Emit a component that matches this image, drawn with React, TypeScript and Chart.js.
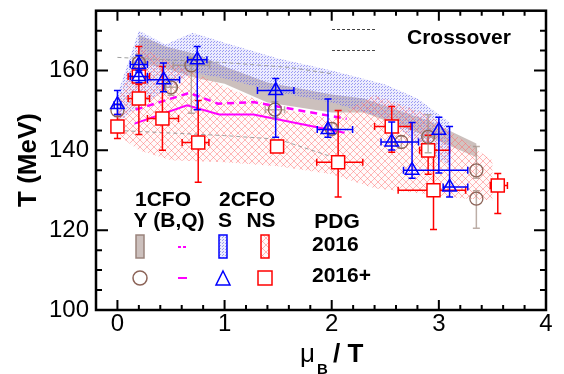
import React, { useEffect, useRef } from "react";
import { Chart, registerables } from "chart.js";
Chart.register(...registerables);

const FONT = "'Liberation Sans', Arial, Helvetica, sans-serif";

// ---- axes ----
const xTicks = [0, 1, 2, 3, 4];
const yTicks = [100, 120, 140, 160];

// ---- 1CFO Y (B,Q), PDG2016+ : circles ----
const yMu = [0, 0.2, 0.5, 0.69, 1.47, 2.0, 2.65, 2.9, 3.35, 3.35];
const yT = [150, 162, 155.8, 161.3, 150.2, 145.4, 142.1, 143.4, 135, 127.9];
const yTUp = [1.5, 2, 2, 2, 2, 1.5, 1.5, 5.5, 6, 2];
const yTDn = [1.5, 2, 2, 12, 2, 1.5, 1.5, 4, 2, 7.4];
const yMuErr = [0, 0.05, 0.05, 0.17, 0.09, 0.05, 0.1, 0.05, 0, 0];

// ---- 2CFO S, PDG2016+ : triangles ----
const sMu = [0, 0.2, 0.2, 0.43, 0.745, 1.477, 1.965, 2.56, 2.75, 3.0, 3.1];
const sT = [151.5, 161.5, 158.5, 157.7, 162.7, 155, 145.2, 142.1, 135, 145, 130.8];
const sTUp = [3.5, 2.3, 1.5, 4.2, 3.3, 3, 7.7, 5, 12, 3.3, 15.2];
const sTDn = [2.5, 2, 1.5, 3, 12.5, 11.7, 1.9, 2, 2, 10.7, 2.5];
const sMuLo = [0.03, 0.08, 0.08, 0.15, 0.09, 0.17, 0.1, 0.1, 0.08, 0, 0.06];
const sMuHi = [0.03, 0.08, 0.08, 0.15, 0.09, 0.17, 0.23, 0.25, 0.52, 0, 0.17];

// ---- 2CFO NS, PDG2016+ : squares ----
const nsMu = [0, 0.2, 0.2, 0.42, 0.754, 1.49, 2.06, 2.56, 2.9, 2.95, 3.55];
const nsT = [146, 158.5, 153, 148, 142, 141, 137, 146, 140, 130, 131.2];
const nsTUp = [3, 2, 13, 13, 10.5, 1.5, 13, 5, 3.8, 10, 3];
const nsTDn = [3, 2, 9, 8, 10, 1.5, 8.7, 6.5, 6, 9.8, 7];
const nsMuLo = [0, 0.1, 0.1, 0.14, 0.15, 0.05, 0.2, 0.16, 0.08, 0.33, 0.07];
const nsMuHi = [0, 0.1, 0.1, 0.15, 0.1, 0.05, 0.23, 0.18, 0.2, 0.3, 0.09];

// ---- 1CFO B,Q lines (magenta) ----
const bqMu2016p = [0.16, 0.65, 0.95, 1.27, 2.12];
const bqT2016p = [146.7, 151.3, 149, 149, 144.4];
const bqMu2016 = [0.17, 0.67, 0.94, 1.27, 2.14];
const bqT2016 = [150.2, 154.4, 151.7, 152.1, 147.9];

// ---- bands (PDG2016) ----
const yBandMu = [0.2, 0.45, 0.75, 1.0, 1.4, 2.0, 2.3, 2.9, 3.35];
const yBandUp = [169, 166, 164, 161, 157, 154, 153, 147.5, 141.7];
const yBandLo = [162, 160.5, 158, 156.7, 152, 149.5, 149.5, 143.5, 138.3];

const sBandMu = [0, 0.2, 0.45, 0.7, 1.0, 1.5, 2.0, 2.5, 2.8, 3.1];
const sBandUp = [154, 170, 166.5, 169.5, 167, 163, 160, 156.5, 153, 147];
const sBandLo = [147, 151, 155, 159.5, 158, 154.5, 152, 148, 142, 136];

const nsBandMu = [0.0, 0.2, 0.5, 1.0, 1.5, 2.0, 2.4, 2.9, 3.2, 3.5];
const nsBandUp = [152, 166, 162, 156, 150.5, 148, 153.8, 149, 143, 137.5];
const nsBandLo = [144, 140, 137.5, 137, 136, 134, 130.5, 129, 128, 127.5];

// ---- crossover lines ----
const coMuUp = [0, 0.3, 1.0, 1.6, 2.0];
const coTUp = [163.3, 162.9, 162, 160.8, 159.2];
const coMuLo = [0, 1.0, 1.5, 2.0];
const coTLo = [145, 143.7, 142.8, 138.4];

const pts = (xs: number[], ys: number[]) => xs.map((x, i) => ({ x, y: ys[i] }));
const poly = (xs: number[], up: number[], lo: number[]) => [
  ...pts(xs, up),
  ...pts(xs, lo).reverse(),
];

function makeDots(ctx: CanvasRenderingContext2D) {
  const c = document.createElement("canvas");
  c.width = 3;
  c.height = 3;
  const g = c.getContext("2d")!;
  g.fillStyle = "rgba(170,170,245,0.22)";
  g.fillRect(0, 0, 3, 3);
  g.fillStyle = "rgba(90,90,235,0.55)";
  g.fillRect(0, 0, 1, 1);
  g.fillRect(1, 2, 1, 1);
  return ctx.createPattern(c, "repeat")!;
}

function makeHatch(ctx: CanvasRenderingContext2D) {
  const c = document.createElement("canvas");
  c.width = 7;
  c.height = 7;
  const g = c.getContext("2d")!;
  g.fillStyle = "rgba(255,210,210,0.12)";
  g.fillRect(0, 0, 7, 7);
  g.strokeStyle = "rgba(255,100,100,0.45)";
  g.lineWidth = 1;
  g.beginPath();
  g.moveTo(0, 0);
  g.lineTo(7, 7);
  g.moveTo(7, 0);
  g.lineTo(0, 7);
  g.stroke();
  return ctx.createPattern(c, "repeat")!;
}

const errPlugin = {
  id: "errbars",
  beforeDatasetDraw(chart: any, args: any) {
    const ds = chart.data.datasets[args.index];
    const eb = ds.errorBars;
    if (!eb) return;
    const { ctx, chartArea: a } = chart;
    const x = chart.scales.x;
    const y = chart.scales.y;
    ctx.save();
    ctx.beginPath();
    ctx.rect(a.left, a.top, a.right - a.left, a.bottom - a.top);
    ctx.clip();
    ctx.strokeStyle = eb.color;
    ctx.lineWidth = 1.5;
    const cap = 3.5;
    ds.data.forEach((p: any, i: number) => {
      const px = x.getPixelForValue(p.x);
      const py = y.getPixelForValue(p.y);
      const up = eb.yPlus[i] || 0;
      const dn = eb.yMinus[i] || 0;
      const xl = eb.xMinus[i] || 0;
      const xr = eb.xPlus[i] || 0;
      ctx.beginPath();
      if (up || dn) {
        const y1 = y.getPixelForValue(p.y + up);
        const y2 = y.getPixelForValue(p.y - dn);
        ctx.moveTo(px, y1);
        ctx.lineTo(px, y2);
        if (up) {
          ctx.moveTo(px - cap, y1);
          ctx.lineTo(px + cap, y1);
        }
        if (dn) {
          ctx.moveTo(px - cap, y2);
          ctx.lineTo(px + cap, y2);
        }
      }
      if (xl || xr) {
        const x1 = x.getPixelForValue(p.x - xl);
        const x2 = x.getPixelForValue(p.x + xr);
        ctx.moveTo(x1, py);
        ctx.lineTo(x2, py);
        if (xl) {
          ctx.moveTo(x1, py - cap);
          ctx.lineTo(x1, py + cap);
        }
        if (xr) {
          ctx.moveTo(x2, py - cap);
          ctx.lineTo(x2, py + cap);
        }
      }
      ctx.stroke();
    });
    ctx.restore();
  },
};

function makeDecor(dotPat: CanvasPattern, hatchPat: CanvasPattern) {
  return {
    id: "decor",
    afterDatasetsDraw(chart: any) {
      const { ctx, chartArea: a } = chart;
      const x = chart.scales.x;
      const y = chart.scales.y;
      ctx.save();
      // ticks (inward, on all four sides)
      ctx.strokeStyle = "#000";
      ctx.lineWidth = 2;
      ctx.beginPath();
      for (let k = 0; k < 20; k++) {
        const px = x.getPixelForValue(k / 5);
        const len = k % 5 === 0 ? 10 : 5;
        ctx.moveTo(px, a.bottom);
        ctx.lineTo(px, a.bottom - len);
        ctx.moveTo(px, a.top);
        ctx.lineTo(px, a.top + len);
      }
      for (let v = 105; v < 175; v += 5) {
        const py = y.getPixelForValue(v);
        const len = (v - 100) % 20 === 0 ? 12 : 6;
        ctx.moveTo(a.left, py);
        ctx.lineTo(a.left + len, py);
        ctx.moveTo(a.right, py);
        ctx.lineTo(a.right - len, py);
      }
      ctx.stroke();
      ctx.lineWidth = 2.5;
      ctx.strokeRect(a.left, a.top, a.right - a.left, a.bottom - a.top);

      // axis titles
      ctx.fillStyle = "#000";
      ctx.save();
      ctx.translate(29, 160);
      ctx.rotate(-Math.PI / 2);
      ctx.font = `bold 26px ${FONT}`;
      ctx.textAlign = "center";
      ctx.textBaseline = "middle";
      ctx.fillText("T (MeV)", 0, 0);
      ctx.restore();

      ctx.textAlign = "left";
      ctx.textBaseline = "alphabetic";
      ctx.font = `26px ${FONT}`;
      ctx.fillText("\u03bc", 300, 362);
      ctx.font = `bold 15px ${FONT}`;
      ctx.fillText("B", 317, 374);
      ctx.font = `bold 26px ${FONT}`;
      ctx.fillText("/ T", 333, 362);

      // legend texts
      ctx.font = `bold 21px ${FONT}`;
      ctx.textBaseline = "middle";
      ctx.textAlign = "center";
      ctx.fillText("1CFO", 163, 200);
      ctx.fillText("Y (B,Q)", 169, 221);
      ctx.fillText("2CFO", 247, 200);
      ctx.fillText("S", 225, 221);
      ctx.fillText("NS", 261, 221);
      ctx.fillText("PDG", 337, 222);
      ctx.textAlign = "left";
      ctx.fillText("2016", 312, 245);
      ctx.fillText("2016+", 312, 276);
      ctx.fillText("Crossover", 407, 38);

      // legend samples
      ctx.lineWidth = 1.5;
      ctx.fillStyle = "rgba(170,150,145,0.6)";
      ctx.fillRect(136, 235, 8, 23);
      ctx.strokeStyle = "#9a847c";
      ctx.strokeRect(136, 235, 8, 23);

      ctx.fillStyle = dotPat;
      ctx.fillRect(219, 235, 8, 23);
      ctx.strokeStyle = "#0000ff";
      ctx.strokeRect(219, 235, 8, 23);

      ctx.fillStyle = hatchPat;
      ctx.fillRect(261, 235, 8, 23);
      ctx.strokeStyle = "#ff0000";
      ctx.strokeRect(261, 235, 8, 23);

      ctx.strokeStyle = "#ff00ff";
      ctx.lineWidth = 2;
      ctx.setLineDash([3, 2]);
      ctx.beginPath();
      ctx.moveTo(178, 247);
      ctx.lineTo(187, 247);
      ctx.stroke();
      ctx.setLineDash([]);
      ctx.beginPath();
      ctx.moveTo(178, 278);
      ctx.lineTo(187, 278);
      ctx.stroke();

      ctx.lineWidth = 1.5;
      ctx.strokeStyle = "#8c6458";
      ctx.beginPath();
      ctx.arc(140, 278, 7, 0, Math.PI * 2);
      ctx.stroke();

      ctx.strokeStyle = "#0000ff";
      ctx.beginPath();
      ctx.moveTo(223, 271);
      ctx.lineTo(230, 285);
      ctx.lineTo(216, 285);
      ctx.closePath();
      ctx.stroke();

      ctx.strokeStyle = "#ff0000";
      ctx.strokeRect(258, 271, 14, 14);

      ctx.strokeStyle = "#444";
      ctx.lineWidth = 1;
      ctx.setLineDash([3, 2]);
      ctx.beginPath();
      ctx.moveTo(332, 29.5);
      ctx.lineTo(375, 29.5);
      ctx.moveTo(332, 50.5);
      ctx.lineTo(375, 50.5);
      ctx.stroke();
      ctx.setLineDash([]);
      ctx.restore();
    },
  };
}

export default function App() {
  const ref = useRef<HTMLCanvasElement>(null);
  useEffect(() => {
    const canvas = ref.current!;
    const ctx = canvas.getContext("2d")!;
    const dotPat = makeDots(ctx);
    const hatchPat = makeHatch(ctx);
    Chart.defaults.font.family = FONT;

    const band = (data: any, bg: any, order: number) => ({
      type: "line" as const,
      data,
      fill: "shape",
      backgroundColor: bg,
      borderColor: "transparent",
      borderWidth: 0,
      pointRadius: 0,
      tension: 0,
      order,
    });
    const line = (data: any, color: string, width: number, dash: number[], order: number) => ({
      type: "line" as const,
      data,
      fill: false,
      borderColor: color,
      borderWidth: width,
      borderDash: dash,
      pointRadius: 0,
      tension: 0,
      order,
    });

    const chart = new Chart(canvas, {
      type: "scatter",
      data: {
        datasets: [
          band(poly(yBandMu, yBandUp, yBandLo), "rgba(170,150,145,0.6)", 30),
          band(poly(sBandMu, sBandUp, sBandLo), dotPat, 29),
          band(poly(nsBandMu, nsBandUp, nsBandLo), hatchPat, 28),
          line(pts(coMuUp, coTUp), "rgba(150,150,150,0.9)", 1, [4, 3], 20),
          line(pts(coMuLo, coTLo), "rgba(150,150,150,0.9)", 1, [4, 3], 20),
          line(pts(bqMu2016, bqT2016), "#ff00ff", 2.5, [7, 5], 10),
          line(pts(bqMu2016p, bqT2016p), "#ff00ff", 2, [], 10),
          {
            data: pts(nsMu, nsT),
            pointStyle: "rect",
            pointRadius: 9.2,
            pointBorderWidth: 1.5,
            pointBorderColor: "#ff0000",
            pointBackgroundColor: "#ffffff",
            order: 3,
            errorBars: { yPlus: nsTUp, yMinus: nsTDn, xMinus: nsMuLo, xPlus: nsMuHi, color: "#ff0000" },
          } as any,
          {
            data: pts(yMu, yT),
            pointStyle: "circle",
            pointRadius: 6.5,
            pointBorderWidth: 1.3,
            pointBorderColor: "#8c6458",
            pointBackgroundColor: "transparent",
            order: 2,
            errorBars: { yPlus: yTUp, yMinus: yTDn, xMinus: yMuErr, xPlus: yMuErr, color: "rgba(160,140,130,0.7)" },
          } as any,
          {
            data: pts(sMu, sT),
            pointStyle: "triangle",
            pointRadius: 7.8,
            pointBorderWidth: 1.5,
            pointBorderColor: "#0000ff",
            pointBackgroundColor: "transparent",
            order: 1,
            errorBars: { yPlus: sTUp, yMinus: sTDn, xMinus: sMuLo, xPlus: sMuHi, color: "#0000ff" },
          } as any,
        ],
      },
      options: {
        responsive: false,
        devicePixelRatio: 1,
        animation: false,
        events: [],
        layout: { padding: { top: 10, right: 18, left: 0, bottom: 0 } },
        plugins: { legend: { display: false }, tooltip: { enabled: false } },
        scales: {
          x: {
            type: "linear",
            min: -0.2,
            max: 4,
            afterBuildTicks: (s: any) => {
              s.ticks = xTicks.map((v) => ({ value: v }));
            },
            afterFit: (s: any) => {
              s.height = 64;
              s.paddingLeft = 0;
              s.paddingRight = 0;
            },
            grid: { display: false, drawTicks: false },
            border: { display: false },
            ticks: { color: "#000", font: { size: 24, family: FONT }, padding: 0, maxRotation: 0, autoSkip: false },
          },
          y: {
            type: "linear",
            min: 100,
            max: 175,
            afterBuildTicks: (s: any) => {
              s.ticks = yTicks.map((v) => ({ value: v }));
            },
            afterFit: (s: any) => {
              s.width = 96;
              s.paddingTop = 0;
              s.paddingBottom = 0;
            },
            grid: { display: false, drawTicks: false },
            border: { display: false },
            ticks: { color: "#000", font: { size: 24, family: FONT }, padding: 7, autoSkip: false },
          },
        },
      } as any,
      plugins: [errPlugin, makeDecor(dotPat, hatchPat)],
    });
    return () => chart.destroy();
  }, []);
  return (
    <div style={{ position: "fixed", left: 0, top: 0, width: 564, height: 374, background: "#fff" }}>
      <canvas ref={ref} width={564} height={374} style={{ display: "block", width: 564, height: 374 }} />
    </div>
  );
}
